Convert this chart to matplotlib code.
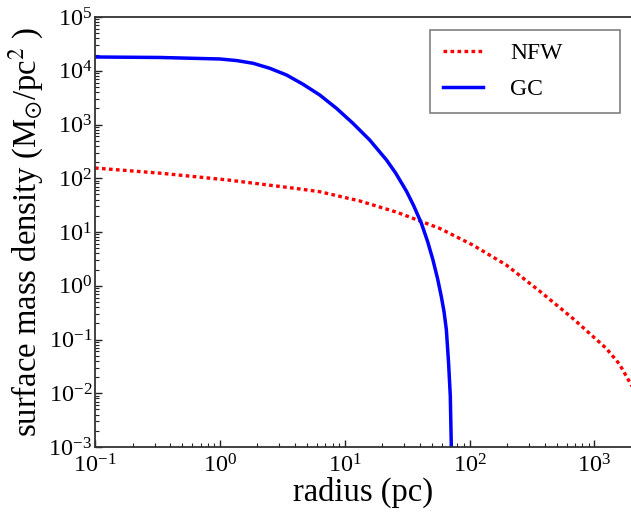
import matplotlib
matplotlib.use("Agg")
import matplotlib.pyplot as plt
from matplotlib.ticker import LogLocator, NullFormatter

plt.rcParams['font.family'] = 'serif'
plt.rcParams['font.serif'] = ['Liberation Serif', 'DejaVu Serif']
plt.rcParams['mathtext.fontset'] = 'stix'

# NFW profile
nfw_r = [0.1, 0.342, 1.164, 3.98, 6.31, 13.2, 26.3, 57.5, 106, 197, 363, 670, 1242, 1585, 2000]
nfw_sigma = [155, 123.6, 92.7, 65.0, 56.2, 37.8, 23.2, 11.7, 5.73, 2.43, 0.80, 0.248, 0.0686, 0.035, 0.0135]

# GC profile
gc_r = [0.1, 0.331, 1.0, 1.368, 1.845, 2.51, 3.42, 4.64, 6.31, 8.59, 11.64, 15.85, 21.6,
        25.6, 31.2, 35.6, 41.1, 46.1, 50.8, 55.5, 59.4, 62.5, 65.2, 67.9, 70.1, 71.4, 71.5]
gc_sigma = [18030, 17660, 16560, 15450, 13770, 11120, 8340, 5600, 3540, 2000, 1052, 515, 219,
            124.7, 57.7, 31.2, 14.6, 6.68, 3.08, 1.34, 0.628, 0.325, 0.151, 0.0368, 0.0089,
            0.00105, 0.0005]

fig = plt.figure(figsize=(6.31, 5.15), dpi=100)
ax = fig.add_axes([95/631, 68/515, 537/631, 430/515])

ax.plot(nfw_r, nfw_sigma, color='#ff0000', linewidth=2.4, dashes=(1.1, 1.0),
        dash_capstyle='butt', label='NFW')
ax.plot(gc_r, gc_sigma, color='#0000ff', linewidth=2.5, label='GC')

ax.set_xscale('log')
ax.set_yscale('log')
ax.set_xlim(0.1, 2000)
ax.set_ylim(1e-3, 1e5)

ax.xaxis.set_major_locator(LogLocator(base=10, numticks=20))
ax.yaxis.set_major_locator(LogLocator(base=10, numticks=20))
ax.xaxis.set_minor_locator(LogLocator(base=10, subs=range(2, 10), numticks=50))
ax.yaxis.set_minor_locator(LogLocator(base=10, subs=range(2, 10), numticks=50))
ax.xaxis.set_minor_formatter(NullFormatter())
ax.yaxis.set_minor_formatter(NullFormatter())

ax.tick_params(which='both', direction='in', top=False, right=False,
               labelsize=17.5, colors='#222222', labelcolor='black')
ax.tick_params(which='major', length=5, width=1.0)
ax.tick_params(which='minor', length=3, width=0.8)
ax.tick_params(axis='x', which='major', pad=5)
ax.tick_params(axis='y', which='major', pad=2)

for s in ['left', 'bottom', 'top']:
    ax.spines[s].set_color('#333333')
    ax.spines[s].set_linewidth(1.3)
ax.spines['right'].set_visible(False)

ax.set_xlabel('radius (pc)', fontsize=23.5, labelpad=0)
ax.set_ylabel(r'surface mass density (M$_{\odot}$/pc$^2$ )', fontsize=23.5, labelpad=2)

leg = ax.legend(loc='upper left', bbox_to_anchor=(0.624, 0.0, 0.354, 0.970),
                mode='expand', fontsize=17, fancybox=False, edgecolor='#808080',
                framealpha=1, handlelength=1.7, handletextpad=1.15, borderpad=0.55,
                labelspacing=0.6, borderaxespad=0.0)
leg.get_frame().set_linewidth(1.2)

fig.savefig('out.png', dpi=100)
